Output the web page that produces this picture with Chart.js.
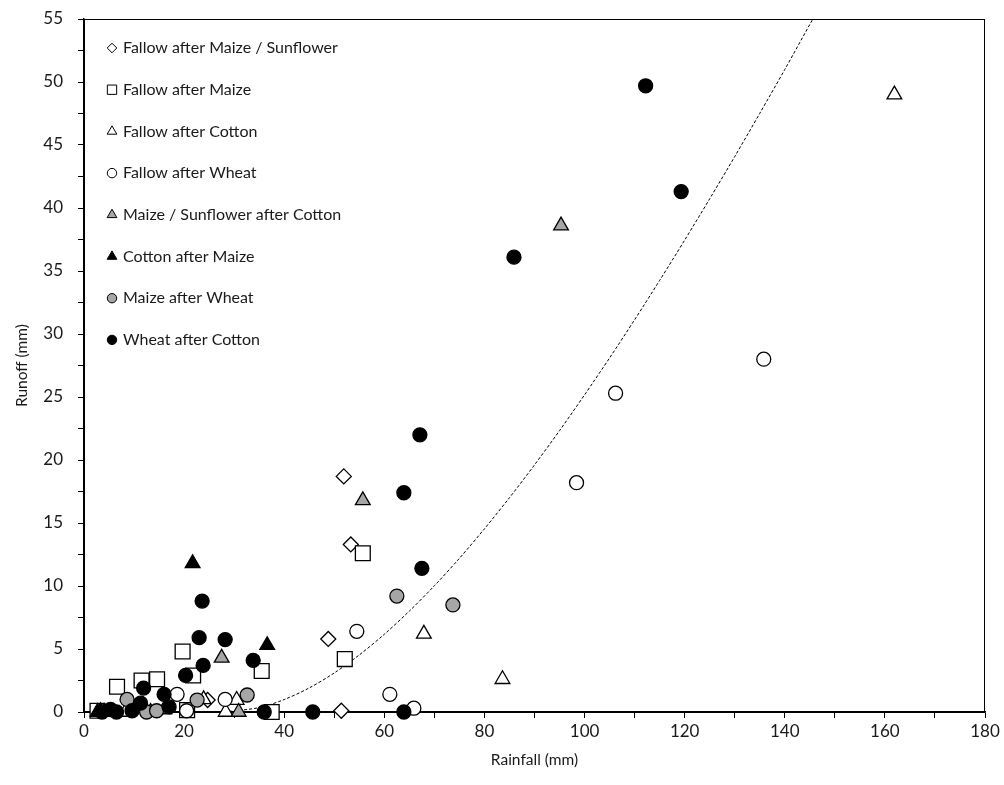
<!DOCTYPE html>
<html>
<head>
<meta charset="utf-8">
<title>Runoff vs rainfall</title>
<script src="https://cdn.jsdelivr.net/npm/chart.js@4.4.0/dist/chart.umd.min.js"></script>
<style>
  html, body { margin: 0; padding: 0; background: #fff; }
  #wrap { width: 1004px; height: 785px; }
</style>
</head>
<body>
<div id="wrap"><canvas id="runoffChart" width="1004" height="785"></canvas></div>
<script>
// Rainfall (mm) / runoff (mm) per crop sequence
const seriesNames = [
    'Fallow after Maize / Sunflower',
    'Fallow after Maize',
    'Fallow after Cotton',
    'Fallow after Wheat',
    'Maize / Sunflower after Cotton',
    'Cotton after Maize',
    'Maize after Wheat',
    'Wheat after Cotton'
];

const fallowMaizeSunRain = [51.9, 53.3, 48.8, 51.4, 24.7];
const fallowMaizeSunRunoff = [18.7, 13.3, 5.8, 0.1, 0.95];

const fallowMaizeRain = [55.7, 52.1, 19.7, 35.5, 21.8, 6.6, 11.5, 14.6, 37.5, 20.6, 2.7];
const fallowMaizeRunoff = [12.6, 4.2, 4.8, 3.25, 2.9, 2.0, 2.5, 2.6, 0.0, 0.15, 0.1];

const fallowCottonRain = [161.9, 83.6, 67.9, 30.5, 28.3, 8.3, 23.9, 16.0];
const fallowCottonRunoff = [49.0, 2.6, 6.2, 0.95, 0.0, 0.0, 1.0, 0.2];

const fallowWheatRain = [135.8, 106.2, 98.4, 54.5, 61.1, 65.9, 18.6, 28.2, 20.5];
const fallowWheatRunoff = [28.0, 25.3, 18.2, 6.4, 1.4, 0.3, 1.4, 1.0, 0.1];

const maizeSunCottonRain = [95.3, 55.7, 27.5, 30.9, 13.3];
const maizeSunCottonRunoff = [38.6, 16.8, 4.3, 0.0, 0.0];

const cottonMaizeRain = [21.7, 36.6, 2.7, 4.0, 3.3];
const cottonMaizeRunoff = [11.8, 5.3, 0.0, 0.0, 0.05];

const maizeWheatRain = [62.5, 73.7, 22.6, 32.6, 8.6, 12.5, 14.5];
const maizeWheatRunoff = [9.2, 8.5, 0.95, 1.35, 1.0, 0.0, 0.1];

const wheatCottonRain = [112.2, 119.3, 85.9, 67.1, 63.9, 67.5, 23.6, 23.0, 28.2, 33.8, 23.8, 20.3,
    11.9, 16.0, 11.3, 17.0, 9.6, 5.3, 6.5, 36.0, 45.7, 63.9, 3.6];
const wheatCottonRunoff = [49.7, 41.3, 36.1, 22.0, 17.4, 11.4, 8.8, 5.9, 5.75, 4.1, 3.7, 2.9,
    1.9, 1.4, 0.7, 0.4, 0.1, 0.2, 0.0, 0.0, 0.0, 0.0, 0.0];

// fitted runoff curve (dashed)
const curveRain = [28, 35, 40, 45, 50, 55, 60, 65, 70, 75, 80, 85, 90, 95, 100, 105, 110, 115,
    120, 125, 130, 135, 140, 145.6];
const curveRunoff = [0, 0.35, 0.99, 1.91, 3.10, 4.53, 6.17, 8.01, 10.02, 12.20, 14.54, 17.01,
    19.61, 22.33, 25.17, 28.10, 31.13, 34.25, 37.45, 40.73, 44.08, 47.51, 50.99, 55.0];

const xTicksMax = 180;
const yTicksMax = 55;

const rainSets = [fallowMaizeSunRain, fallowMaizeRain, fallowCottonRain, fallowWheatRain,
    maizeSunCottonRain, cottonMaizeRain, maizeWheatRain, wheatCottonRain];
const runoffSets = [fallowMaizeSunRunoff, fallowMaizeRunoff, fallowCottonRunoff, fallowWheatRunoff,
    maizeSunCottonRunoff, cottonMaizeRunoff, maizeWheatRunoff, wheatCottonRunoff];

// marker look per series
const markers = [
    { shape: 'rectRot', fill: '#ffffff', r: 7.5, lr: 4.8 },
    { shape: 'rect', fill: '#ffffff', r: 10.5, lr: 6.6 },
    { shape: 'triangle', fill: '#ffffff', r: 8.5, lr: 5.6 },
    { shape: 'circle', fill: '#ffffff', r: 7, lr: 4.7 },
    { shape: 'triangle', fill: '#a6a6a6', r: 8.5, lr: 5.6 },
    { shape: 'triangle', fill: '#000000', r: 8.5, lr: 5.6 },
    { shape: 'circle', fill: '#a6a6a6', r: 7, lr: 4.7 },
    { shape: 'circle', fill: '#000000', r: 7, lr: 4.7 }
];

const FONT = 'Lato, "Open Sans", sans-serif';
const TEXT = '#1a1a1a';

const pairs = (xs, ys) => xs.map((x, i) => ({ x: x, y: ys[i] }));

const datasets = seriesNames.map((name, i) => ({
    type: 'scatter',
    label: name,
    data: pairs(rainSets[i], runoffSets[i]),
    pointStyle: markers[i].shape,
    pointRadius: markers[i].r,
    pointHoverRadius: markers[i].r,
    pointBackgroundColor: markers[i].fill,
    pointBorderColor: '#000',
    pointBorderWidth: 1.3,
    order: 8 - i,   // later series drawn on top
    clip: false
}));

datasets.push({
    type: 'line',
    label: 'fit',
    data: pairs(curveRain, curveRunoff),
    borderColor: '#000',
    borderWidth: 1,
    borderDash: [3, 2],
    pointRadius: 0,
    tension: 0.3,
    fill: false,
    order: 20
});

// draws a legend marker by hand
function drawMarker(ctx, shape, x, y, r, fill) {
    ctx.beginPath();
    if (shape === 'circle') {
        ctx.arc(x, y, r, 0, Math.PI * 2);
    } else if (shape === 'rect') {
        const s = r * Math.SQRT1_2;
        ctx.rect(x - s, y - s, 2 * s, 2 * s);
    } else if (shape === 'rectRot') {
        ctx.moveTo(x - r, y);
        ctx.lineTo(x, y - r);
        ctx.lineTo(x + r, y);
        ctx.lineTo(x, y + r);
        ctx.closePath();
    } else if (shape === 'triangle') {
        const h = r * Math.sin(Math.PI / 3);
        ctx.moveTo(x, y - r);
        ctx.lineTo(x + h, y + r / 2);
        ctx.lineTo(x - h, y + r / 2);
        ctx.closePath();
    }
    ctx.fillStyle = fill;
    ctx.fill();
    ctx.lineWidth = 1;
    ctx.strokeStyle = '#000';
    ctx.stroke();
}

const frameAndLegend = {
    id: 'frameAndLegend',
    beforeDatasetsDraw(chart) {
        const { ctx, chartArea: a } = chart;
        ctx.save();
        ctx.strokeStyle = '#000';
        ctx.lineWidth = 1;
        ctx.strokeRect(a.left + 0.5, a.top + 0.5, a.right - a.left - 1, a.bottom - a.top);
        ctx.restore();
    },
    afterDraw(chart) {
        const { ctx, chartArea: a } = chart;
        ctx.save();
        ctx.font = '16px ' + FONT;
        ctx.textBaseline = 'middle';
        ctx.textAlign = 'left';
        seriesNames.forEach((name, i) => {
            const y = 48 + i * 41.7;
            const m = markers[i];
            drawMarker(ctx, m.shape, a.left + 28, y, m.lr, m.fill);
            ctx.fillStyle = TEXT;
            ctx.fillText(name, a.left + 39, y);
        });
        ctx.restore();
    }
};

new Chart(document.getElementById('runoffChart'), {
    data: { datasets: datasets },
    options: {
        responsive: false,
        animation: false,
        layout: { autoPadding: false, padding: { top: 19, right: 19, left: 0, bottom: 0 } },
        plugins: {
            legend: { display: false },
            tooltip: { enabled: false }
        },
        scales: {
            x: {
                type: 'linear',
                min: 0,
                max: xTicksMax,
                ticks: {
                    stepSize: 10,
                    autoSkip: false,
                    maxRotation: 0,
                    padding: 3,
                    color: TEXT,
                    font: { family: FONT, size: 17 },
                    callback: v => (v % 20 === 0 ? v : '')
                },
                grid: { drawOnChartArea: false, drawTicks: true, tickLength: 6, color: '#000', tickWidth: 1 },
                border: { color: '#000', width: 1.5 },
                title: {
                    display: true,
                    text: 'Rainfall (mm)',
                    color: TEXT,
                    font: { family: FONT, size: 15.5 },
                    padding: { top: 0, bottom: 16 }
                },
                afterFit: s => { s.height = 73; }
            },
            y: {
                type: 'linear',
                min: 0,
                max: yTicksMax,
                ticks: {
                    stepSize: 2.5,
                    autoSkip: false,
                    padding: 15,
                    color: TEXT,
                    font: { family: FONT, size: 17 },
                    callback: v => (v % 5 === 0 ? v : '')
                },
                grid: { drawOnChartArea: false, drawTicks: true, tickLength: 6, color: '#000', tickWidth: 1 },
                border: { color: '#000', width: 1.5 },
                title: {
                    display: true,
                    text: 'Runoff (mm)',
                    color: TEXT,
                    font: { family: FONT, size: 15.5 },
                    padding: { top: 13, bottom: 0 }
                },
                // label padding would otherwise push the plot top down
                afterFit: s => { s.width = 84; s.paddingTop = 10; s.paddingBottom = 10; }
            }
        }
    },
    plugins: [frameAndLegend]
});
</script>
</body>
</html>
